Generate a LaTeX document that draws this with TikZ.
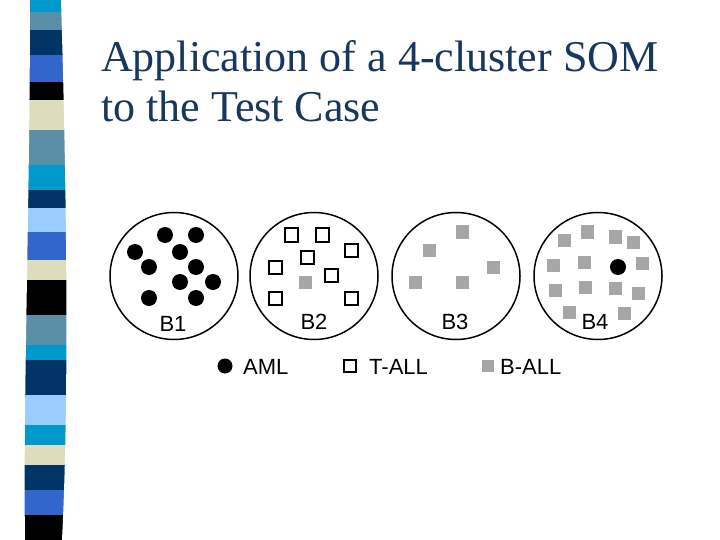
\documentclass[tikz,border=0pt]{standalone}
\usepackage{fontspec}
\setmainfont{Liberation Serif}
\newfontfamily\lab{Liberation Sans}
\usetikzlibrary{shapes.geometric}
\definecolor{cCy}{HTML}{0099CC}
\definecolor{cTe}{HTML}{5B8FA8}
\definecolor{cNa}{HTML}{003366}
\definecolor{cBl}{HTML}{3366CC}
\definecolor{cBe}{HTML}{DDDDBB}
\definecolor{cLb}{HTML}{99CCFF}
\definecolor{titlec}{HTML}{17375E}
\begin{document}
\begin{tikzpicture}[x=1pt,y=-1pt,
  aml/.style={circle,fill=black,inner sep=0pt,minimum size=16pt},
  tall/.style={draw=black,line width=2pt,fill=white,inner sep=0pt,minimum size=13pt},
  ball/.style={fill=gray!70,inner sep=0pt,minimum size=13pt},
  clus/.style={ellipse,draw=black,line width=1.5pt,minimum width=128pt,minimum height=127pt,inner sep=0pt},
  blab/.style={font=\lab\fontsize{22}{24}\selectfont,inner sep=0pt},
  ttl/.style={anchor=base west,text=titlec,font=\fontsize{44}{48}\selectfont,inner sep=0pt}]
\useasboundingbox (0,0) rectangle (720,540);
\fill[white] (0,0) rectangle (720,540);
\foreach \a/\b/\c in {0/12/cCy,12/30/cTe,30/55/cNa,55/82/cBl,82/100/black,100/130/cBe,130/165/cTe,165/190/cCy,190/208/cNa,208/232/cLb,232/260/cBl,260/280/cBe,280/315/black,315/345/cTe,345/360/cCy,360/395/cNa,395/425/cLb,425/445/cCy,445/465/cBe,465/490/cNa,490/515/cBl,515/540/black}
  \fill[\c] (24,\a) rectangle (68,\b);
\fill[white] (20,0) -- (30,0) .. controls (30,200) and (23,400) .. (25,540) -- (20,540) -- cycle;
\fill[white] (61,0) -- (75,0) -- (75,540) -- (62,540) .. controls (69,400) and (67,200) .. (61,0) -- cycle;
\node[ttl] (t1) at (101,72) {Application of a 4-cluster SOM};
\node[ttl] (t2) at (101,122) {to the Test Case};
\node[clus] (c1) at (174,276) {};
\node[clus] (c2) at (314,276) {};
\node[clus] (c3) at (456,276) {};
\node[clus] (c4) at (598,276) {};
\node[blab] (l1) at (173,324) {B1};
\node[blab] (l2) at (314,322) {B2};
\node[blab] (l3) at (455,322) {B3};
\node[blab] (l4) at (595,322) {B4};
\foreach \p [count=\i] in {(165,235),(196,235),(135,252),(180,252),(149,267),(196,267),(180,282),(213,282),(149,298),(196,298)}
  \node[aml] (a\i) at \p {};
\foreach \p [count=\i] in {(291,235),(322,235),(351,250),(307,257),(275,267),(331,275),(275,298),(351,298)}
  \node[tall] (t\i) at \p {};
\node[ball] (g0) at (305,282) {};
\foreach \p [count=\i] in {(462,232),(429,250),(493,267),(415,282),(462,282)}
  \node[ball] (h\i) at \p {};
\foreach \p [count=\i] in {(564,240),(587,232),(615,237),(633,242),(553,265),(584,262),(642,263),(555,290),(585,287),(615,288),(638,293),(569,312),(624,313)}
  \node[ball] (k\i) at \p {};
\node[aml] (a0) at (618,267) {};
\node[aml,minimum size=15pt] (la) at (225,366) {};
\node[blab,anchor=west] (lat) at (243,367) {AML};
\node[tall,minimum size=12pt,line width=1.6pt] (lt) at (350,366) {};
\node[blab,anchor=west] (ltt) at (369,367) {T-ALL};
\node[ball,minimum size=12pt] (lb) at (488,366) {};
\node[blab,anchor=west] (lbt) at (500,367) {B-ALL};
\end{tikzpicture}
\end{document}
